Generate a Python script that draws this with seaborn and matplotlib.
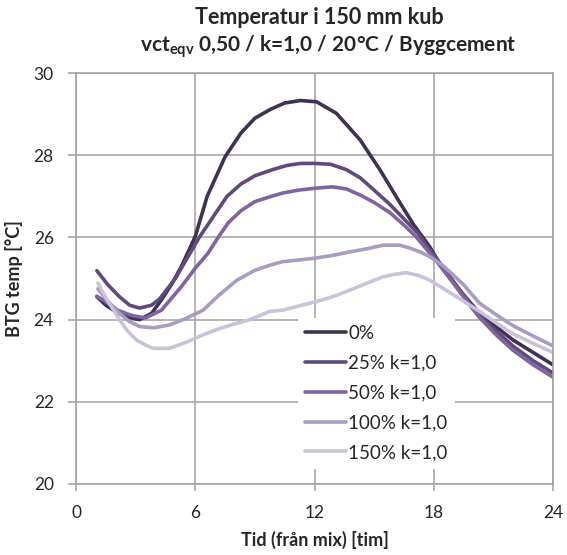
import matplotlib
matplotlib.use("Agg")
import matplotlib.pyplot as plt
import seaborn as sns
import pandas as pd

# temperaturkurvor, tid [tim] och temp [°C]
t_0 = [1.05, 1.5, 2.1, 2.7, 3.2, 3.8, 4.3, 4.8, 5.3, 6.0, 6.6, 7.5, 8.3, 9.0, 9.8, 10.5,
       11.3, 12.1, 13.1, 14.3, 15.3, 16.3, 17.0, 17.8, 18.5, 19.5, 20.3, 21.2, 22.0, 23.0, 24.0]
T_0 = [24.56, 24.35, 24.16, 24.05, 24.0, 24.15, 24.48, 24.85, 25.29, 26.02, 27.0, 27.96, 28.54,
       28.9, 29.12, 29.27, 29.33, 29.3, 29.02, 28.37, 27.64, 26.84, 26.3, 25.77, 25.2, 24.6,
       24.16, 23.8, 23.5, 23.2, 22.9]

t_25 = [1.05, 1.6, 2.2, 2.7, 3.2, 3.8, 4.2, 5.0, 5.6, 6.2, 6.9, 7.6, 8.3, 9.0, 9.9, 10.6,
        11.3, 12.0, 12.8, 13.6, 14.3, 15.0, 15.8, 16.5, 17.2, 17.8, 18.5, 19.5, 20.3, 21.2,
        22.0, 23.0, 24.0]
T_25 = [25.19, 24.85, 24.55, 24.35, 24.28, 24.35, 24.5, 25.0, 25.5, 26.0, 26.5, 27.0, 27.3,
        27.5, 27.65, 27.75, 27.8, 27.8, 27.78, 27.65, 27.45, 27.15, 26.8, 26.45, 26.1, 25.7,
        25.25, 24.6, 24.1, 23.7, 23.35, 23.0, 22.7]

t_50 = [1.05, 1.6, 2.1, 2.8, 3.5, 4.3, 5.3, 6.0, 6.65, 7.15, 7.65, 8.3, 9.0, 9.7, 10.4, 11.2,
        12.1, 12.9, 13.6, 14.3, 15.0, 15.8, 16.5, 17.1, 17.8, 18.5, 19.5, 20.3, 21.2, 22.0,
        23.0, 24.0]
T_50 = [24.57, 24.4, 24.23, 24.1, 24.04, 24.23, 24.8, 25.25, 25.62, 26.0, 26.35, 26.65, 26.87,
        26.98, 27.08, 27.15, 27.2, 27.23, 27.18, 27.03, 26.85, 26.6, 26.3, 26.02, 25.62, 25.2,
        24.55, 24.05, 23.6, 23.25, 22.9, 22.6]

t_100 = [1.1, 1.6, 2.2, 2.7, 3.2, 3.9, 4.7, 5.5, 6.4, 7.2, 8.1, 9.0, 9.8, 10.4, 11.2, 12.1,
         13.0, 13.8, 14.6, 15.45, 16.3, 16.8, 17.3, 17.8, 18.5, 19.5, 20.3, 21.2, 22.0, 23.0, 24.0]
T_100 = [24.75, 24.45, 24.15, 23.95, 23.83, 23.8, 23.87, 24.02, 24.23, 24.6, 24.96, 25.2, 25.33,
         25.41, 25.45, 25.5, 25.57, 25.65, 25.72, 25.81, 25.81, 25.74, 25.65, 25.53, 25.3, 24.85,
         24.4, 24.1, 23.85, 23.6, 23.36]

t_150 = [1.1, 1.6, 2.2, 2.6, 3.05, 3.5, 3.9, 4.7, 5.6, 6.4, 7.2, 8.1, 8.75, 9.76, 10.4, 11.2,
         12.1, 13.0, 13.8, 14.6, 15.45, 16.0, 16.6, 17.2, 17.8, 18.5, 19.5, 20.3, 21.2, 22.0,
         23.0, 24.0]
T_150 = [24.89, 24.45, 23.99, 23.72, 23.5, 23.38, 23.3, 23.3, 23.46, 23.63, 23.78, 23.91, 24.0,
         24.2, 24.23, 24.33, 24.44, 24.57, 24.72, 24.88, 25.04, 25.1, 25.14, 25.08, 24.96, 24.75,
         24.45, 24.2, 23.9, 23.65, 23.42, 23.2]

serier = ["0%", "25% k=1,0", "50% k=1,0", "100% k=1,0", "150% k=1,0"]
farger = ["#3f3151", "#604a7b", "#8064a2", "#a99bc1", "#ccc1da"]
x_ticks = [0, 6, 12, 18, 24]
y_ticks = [20, 22, 24, 26, 28, 30]

sns.set_style("white")
plt.rcParams["font.family"] = ["Lato", "DejaVu Sans"]
plt.rcParams["mathtext.fontset"] = "custom"
plt.rcParams["mathtext.rm"] = "Lato"
plt.rcParams["mathtext.bf"] = "Lato:bold"

fig = plt.figure(figsize=(5.67, 5.55), dpi=100)
ax = fig.add_axes([76 / 567, 1 - 484 / 555, 477 / 567, 411 / 555])

data = [(t_0, T_0), (t_25, T_25), (t_50, T_50), (t_100, T_100), (t_150, T_150)]
for (t, T), namn, f in zip(data, serier, farger):
    df = pd.DataFrame({"t": t, "T": T})
    sns.lineplot(data=df, x="t", y="T", ax=ax, color=f, linewidth=2.6, label=namn)

ax.set_xlim(0, 24); ax.set_ylim(20, 30)
ax.set_xticks(x_ticks); ax.set_yticks(y_ticks)
ax.grid(True, color="#a0a0a0", linewidth=1.1)
for s in ax.spines.values():
    s.set_color("#a0a0a0"); s.set_linewidth(1.1)
ax.tick_params(axis="y", left=True, length=6, width=1.1, color="#a0a0a0", pad=10, labelsize=12.5)
ax.tick_params(axis="x", bottom=True, length=5, width=1.1, color="#a0a0a0", pad=10, labelsize=12.5)

ax.set_xlabel("Tid (från mix) [tim]", fontweight="bold", fontsize=13, labelpad=7)
ax.set_ylabel("BTG temp [°C]", fontweight="bold", fontsize=13, labelpad=8)

# rubrik i två rader
fig.text(319 / 567, 1 - 18 / 555, "Temperatur i 150 mm kub", ha="center", va="center",
         fontsize=15.5, fontweight="bold")
fig.text(328 / 567, 1 - 47 / 555, "$\\mathbf{vct_{eqv}}$ 0,50 / k=1,0 / 20°C / Byggcement",
         ha="center", va="center", fontsize=15, fontweight="bold")

leg = ax.legend(loc="upper left", bbox_to_anchor=(0.465, 0.405), borderaxespad=0,
                fontsize=13.5, handlelength=2.15, handletextpad=0.15, labelspacing=0.68,
                frameon=True, fancybox=False, borderpad=0.4)
leg.get_frame().set_facecolor("white"); leg.get_frame().set_edgecolor("none")
leg.get_frame().set_alpha(1)

fig.savefig("out.png", dpi=100)
